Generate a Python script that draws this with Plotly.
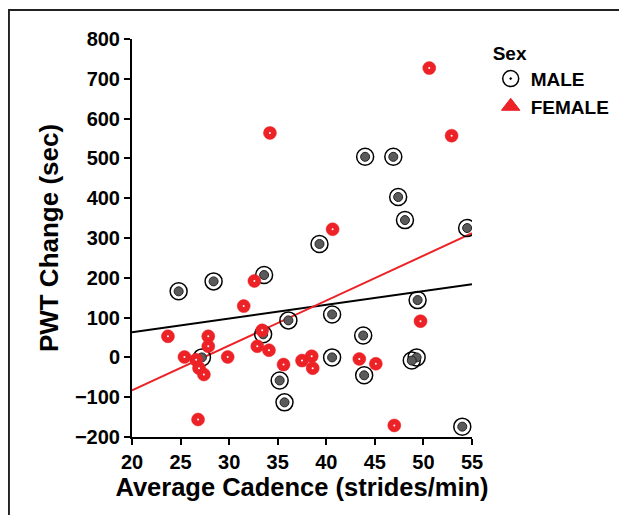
import plotly.graph_objects as go

# ---- data ----
male_cadence = [24.8, 28.4, 33.6, 27.2, 33.5, 36.1, 35.2, 35.7, 39.3, 40.6, 40.6,
                44.0, 46.9, 47.4, 48.1, 43.8, 43.9, 49.4, 49.3, 48.8, 54.5, 54.0]
male_pwt = [166, 191, 207, 0, 58, 93, -58, -113, 285, 108, 0,
            504, 504, 403, 345, 55, -45, 144, 0, -8, 325, -174]

female_cadence = [23.7, 25.4, 26.6, 26.9, 27.4, 26.8, 27.85, 27.85, 29.85, 31.5, 32.6,
                  32.9, 33.4, 34.1, 34.2, 35.6, 37.5, 38.5, 38.6, 40.65, 43.4, 45.1,
                  47.0, 49.7, 50.6, 52.9]
female_pwt = [53, 1, -6, -27, -43, -156, 53, 28, 1, 129, 192,
              28, 68, 18, 564, -18, -8, 3, -27, 322, -4, -16,
              -171, 91, 727, 557]

fit_cadence = [20, 55]
male_fit = [63, 184]
female_fit = [-83, 312]

x_ticks = [20, 25, 30, 35, 40, 45, 50, 55]
y_ticks = [-200, -100, 0, 100, 200, 300, 400, 500, 600, 700, 800]

RED = "#ec2227"
FONT = "Liberation Sans"

fig = go.Figure()

# fit lines
fig.add_trace(go.Scatter(x=fit_cadence, y=male_fit, mode="lines",
                         line=dict(color="black", width=2), showlegend=False,
                         hoverinfo="skip"))
fig.add_trace(go.Scatter(x=fit_cadence, y=female_fit, mode="lines",
                         line=dict(color=RED, width=2), showlegend=False,
                         hoverinfo="skip"))

# male: outer ring + inner filled dot
fig.add_trace(go.Scatter(x=male_cadence, y=male_pwt, mode="markers", name="MALE",
                         marker=dict(symbol="circle-open-dot", size=17, color="black",
                                     line=dict(color="black", width=1.5))))
fig.add_trace(go.Scatter(x=male_cadence, y=male_pwt, mode="markers", showlegend=False,
                         marker=dict(symbol="circle", size=9, color="#5a5a5a",
                                     line=dict(color="#222222", width=1))))

# female: red blobs with tiny white centre
fig.add_trace(go.Scatter(x=female_cadence, y=female_pwt, mode="markers", showlegend=False,
                         marker=dict(symbol="circle", size=13, color=RED,
                                     line=dict(color=RED, width=0.5))))
fig.add_trace(go.Scatter(x=female_cadence, y=female_pwt, mode="markers", showlegend=False,
                         marker=dict(symbol="circle", size=2, color="white",
                                     line=dict(width=0))))
# legend entry for female (triangle icon, as in the reference legend)
fig.add_trace(go.Scatter(x=[None], y=[None], mode="markers", name="FEMALE",
                         marker=dict(symbol="triangle-up", size=16, color=RED,
                                     line=dict(color=RED, width=1))))

axis_common = dict(showgrid=False, zeroline=False, showline=True, linecolor="black",
                   linewidth=2, ticks="outside", ticklen=6, tickwidth=1.5,
                   tickcolor="black",
                   tickfont=dict(family=FONT, size=20, color="black", weight="bold"))

fig.update_xaxes(range=[20, 55], tickvals=x_ticks,
                 title=dict(text="<b>Average Cadence (strides/min)</b>",
                            font=dict(family=FONT, size=25.5, color="black"), standoff=6),
                 **axis_common)
fig.update_yaxes(range=[-200, 800], tickvals=y_ticks,
                 title=dict(text="<b>PWT Change (sec)</b>",
                            font=dict(family=FONT, size=26, color="black"), standoff=9),
                 **axis_common)

# outer frame
fig.add_shape(type="rect", xref="paper", yref="paper",
              x0=-0.362, x1=1.6, y0=-0.35, y1=1.073,
              line=dict(color="#222222", width=2), fillcolor="rgba(0,0,0,0)",
              layer="below")

fig.update_layout(
    width=627, height=515,
    margin=dict(l=124, r=163, t=31, b=86),
    paper_bgcolor="white", plot_bgcolor="white",
    legend=dict(x=1.055, y=1.01, xanchor="left", yanchor="top",
                title=dict(text="<b>Sex</b>", font=dict(family=FONT, size=19, color="black")),
                font=dict(family=FONT, size=19, color="black", weight="bold"),
                tracegroupgap=0, itemwidth=30, bgcolor="rgba(0,0,0,0)"),
)

fig.write_html("out.html")
